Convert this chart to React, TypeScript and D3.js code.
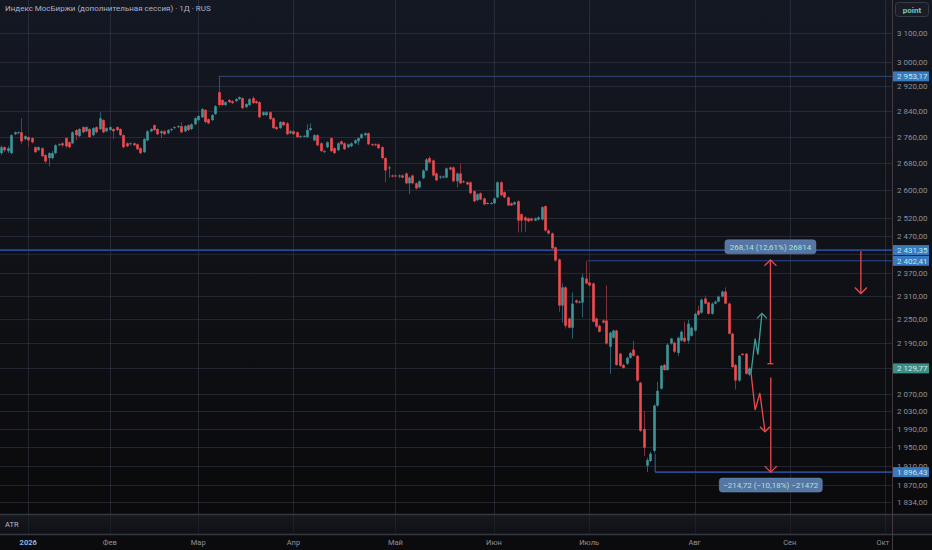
import React from "react";
import * as d3 from "d3";

// ── Data ──────────────────────────────────────────────────────────────────────

const TITLE = "Индекс МосБиржи (дополнительная сессия) · 1Д · RUS";

// daily bars: [open, high, low, close]
const candles: [number, number, number, number][] = [
  [2710, 2734, 2704, 2728], [2728, 2731, 2713, 2719], [2716, 2731, 2710, 2725], [2710, 2768, 2707, 2765],
  [2768, 2777, 2765, 2774], [2771, 2777, 2768, 2774], [2774, 2818, 2737, 2746], [2753, 2765, 2749, 2762],
  [2759, 2762, 2728, 2749], [2756, 2759, 2740, 2743], [2728, 2731, 2710, 2713], [2719, 2731, 2716, 2728],
  [2725, 2728, 2698, 2701], [2704, 2707, 2679, 2685], [2695, 2713, 2670, 2710], [2695, 2716, 2691, 2710],
  [2710, 2737, 2707, 2734], [2734, 2740, 2731, 2737], [2740, 2743, 2728, 2734], [2756, 2759, 2725, 2731],
  [2743, 2746, 2725, 2728], [2740, 2777, 2737, 2774], [2781, 2784, 2749, 2765], [2762, 2787, 2759, 2784],
  [2790, 2793, 2771, 2774], [2777, 2793, 2774, 2790], [2784, 2787, 2756, 2759], [2765, 2790, 2762, 2787],
  [2790, 2793, 2771, 2774], [2784, 2837, 2781, 2818], [2812, 2815, 2771, 2774], [2777, 2790, 2774, 2787],
  [2781, 2793, 2777, 2790], [2784, 2787, 2753, 2777], [2790, 2793, 2777, 2781], [2784, 2787, 2762, 2765],
  [2765, 2768, 2725, 2728], [2740, 2743, 2728, 2731], [2737, 2743, 2734, 2740], [2740, 2743, 2731, 2734],
  [2737, 2740, 2719, 2722], [2725, 2728, 2707, 2710], [2713, 2756, 2710, 2753], [2749, 2781, 2746, 2777],
  [2777, 2787, 2774, 2784], [2796, 2799, 2777, 2781], [2784, 2787, 2765, 2768], [2771, 2781, 2756, 2777],
  [2777, 2781, 2765, 2768], [2771, 2784, 2768, 2781], [2781, 2787, 2777, 2784], [2787, 2793, 2784, 2790],
  [2790, 2796, 2787, 2793], [2793, 2806, 2771, 2774], [2777, 2796, 2774, 2793], [2796, 2799, 2777, 2781],
  [2784, 2802, 2781, 2799], [2799, 2821, 2796, 2818], [2812, 2828, 2809, 2825], [2821, 2850, 2818, 2847],
  [2844, 2847, 2802, 2806], [2815, 2818, 2799, 2802], [2812, 2831, 2809, 2828], [2831, 2860, 2828, 2856],
  [2901, 2953.17, 2853, 2860], [2876, 2879, 2856, 2860], [2860, 2872, 2856, 2869], [2876, 2879, 2866, 2869],
  [2872, 2876, 2863, 2866], [2872, 2882, 2869, 2879], [2879, 2888, 2876, 2885], [2882, 2885, 2847, 2850],
  [2853, 2866, 2850, 2863], [2860, 2882, 2856, 2879], [2882, 2888, 2863, 2866], [2872, 2876, 2863, 2866],
  [2869, 2872, 2818, 2821], [2828, 2840, 2825, 2837], [2828, 2840, 2825, 2837], [2837, 2840, 2812, 2815],
  [2818, 2821, 2784, 2787], [2790, 2793, 2781, 2784], [2787, 2809, 2784, 2806], [2806, 2809, 2793, 2796],
  [2802, 2806, 2765, 2768], [2771, 2781, 2768, 2777], [2777, 2781, 2765, 2768], [2774, 2777, 2756, 2759],
  [2759, 2765, 2756, 2762], [2761, 2765, 2758, 2763], [2759, 2799, 2756, 2781], [2781, 2802, 2777, 2787],
  [2749, 2768, 2746, 2765], [2765, 2768, 2731, 2734], [2740, 2743, 2713, 2716], [2713, 2719, 2710, 2716],
  [2728, 2746, 2725, 2743], [2756, 2759, 2713, 2716], [2725, 2728, 2707, 2710], [2719, 2743, 2716, 2740],
  [2746, 2749, 2734, 2737], [2740, 2743, 2719, 2722], [2728, 2740, 2725, 2737], [2731, 2743, 2728, 2740],
  [2740, 2753, 2737, 2749], [2746, 2759, 2734, 2756], [2756, 2771, 2753, 2768], [2765, 2774, 2762, 2771],
  [2771, 2774, 2734, 2737], [2737, 2740, 2731, 2734], [2737, 2740, 2731, 2734], [2737, 2740, 2722, 2725],
  [2728, 2731, 2691, 2695], [2695, 2698, 2623, 2658], [2664, 2673, 2637, 2667], [2643, 2646, 2637, 2640],
  [2643, 2646, 2637, 2640], [2641, 2646, 2635, 2643], [2643, 2646, 2635, 2637], [2649, 2652, 2617, 2620],
  [2620, 2640, 2588, 2637], [2643, 2646, 2617, 2620], [2620, 2623, 2602, 2605], [2608, 2629, 2605, 2626],
  [2635, 2661, 2632, 2658], [2658, 2695, 2655, 2691], [2695, 2701, 2679, 2682], [2688, 2691, 2640, 2643],
  [2649, 2652, 2626, 2629], [2637, 2643, 2632, 2640], [2637, 2643, 2635, 2640], [2637, 2667, 2635, 2664],
  [2667, 2670, 2658, 2661], [2667, 2670, 2623, 2626], [2626, 2652, 2608, 2649], [2649, 2679, 2617, 2620],
  [2626, 2629, 2620, 2623], [2623, 2626, 2614, 2617], [2623, 2626, 2588, 2591], [2597, 2600, 2565, 2568],
  [2571, 2591, 2568, 2588], [2591, 2594, 2571, 2573], [2576, 2579, 2556, 2559], [2561, 2565, 2559, 2563],
  [2561, 2565, 2559, 2563], [2562, 2579, 2559, 2576], [2579, 2626, 2576, 2623], [2623, 2626, 2582, 2585],
  [2594, 2597, 2576, 2579], [2579, 2582, 2554, 2556], [2562, 2565, 2554, 2556], [2559, 2568, 2556, 2565],
  [2568, 2571, 2480, 2513], [2531, 2533, 2480, 2513], [2522, 2525, 2482, 2513], [2519, 2522, 2508, 2511],
  [2519, 2522, 2511, 2513], [2513, 2522, 2511, 2519], [2516, 2525, 2513, 2522], [2516, 2554, 2513, 2551],
  [2554, 2556, 2482, 2485], [2485, 2488, 2474, 2477], [2477, 2480, 2433, 2436], [2439, 2441, 2400, 2403],
  [2406, 2409, 2269, 2285], [2285, 2342, 2242, 2332], [2332, 2335, 2227, 2234], [2252, 2255, 2227, 2229],
  [2229, 2319, 2202, 2290], [2298, 2301, 2290, 2293], [2293, 2298, 2290, 2295], [2293, 2368, 2255, 2358],
  [2355, 2402.41, 2340, 2342], [2345, 2371, 2334, 2337], [2342, 2345, 2242, 2244], [2252, 2255, 2229, 2232],
  [2234, 2237, 2217, 2219], [2247, 2250, 2239, 2242], [2247, 2337, 2187, 2190], [2182, 2219, 2117, 2217],
  [2204, 2224, 2202, 2222], [2222, 2224, 2136, 2138], [2165, 2167, 2133, 2136], [2138, 2141, 2129, 2131],
  [2141, 2158, 2138, 2155], [2155, 2170, 2153, 2167], [2175, 2197, 2158, 2160], [2160, 2162, 2098, 2101],
  [2096, 2098, 1984, 1986], [1990, 2031, 1931, 1949], [1910, 1927, 1896.43, 1922], [1920, 1940, 1918, 1936],
  [1942, 2046, 1938, 2043], [2043, 2098, 2040, 2077], [2082, 2138, 2080, 2136], [2138, 2141, 2124, 2126],
  [2126, 2190, 2124, 2187], [2190, 2204, 2187, 2202], [2192, 2195, 2167, 2170], [2167, 2207, 2160, 2204],
  [2197, 2222, 2195, 2219], [2204, 2244, 2192, 2195], [2197, 2249, 2190, 2239], [2209, 2232, 2207, 2229],
  [2222, 2267, 2219, 2264], [2272, 2285, 2259, 2262], [2267, 2303, 2264, 2300], [2303, 2311, 2288, 2290],
  [2293, 2295, 2262, 2264], [2264, 2293, 2262, 2290], [2290, 2298, 2288, 2295], [2295, 2311, 2293, 2308],
  [2308, 2324, 2306, 2321], [2321, 2332, 2288, 2290], [2290, 2293, 2212, 2214], [2214, 2217, 2131, 2133],
  [2138, 2141, 2080, 2101], [2101, 2162, 2098, 2160], [2165, 2167, 2160, 2162], [2165, 2167, 2115, 2117],
  [2115, 2133, 2112, 2129.77],
];

const priceTicks = [3100, 3000, 2920, 2840, 2760, 2680, 2600, 2520, 2470, 2370, 2310, 2250, 2190, 2070, 2030, 1990, 1950, 1910, 1870, 1834];
const hiddenTicks = [2420, 2130]; // grid only, label covered by price tags

const monthLabels = ["2026", "Фев", "Мар", "Апр", "Май", "Июн", "Июль", "Авг", "Сен", "Окт"];
const monthBars = [8, 32, 58, 86, 116, 145, 173, 204, 232, 260];

// horizontal levels drawn on the chart
const levelPrices = [2953.17, 2431.35, 2402.41, 1896.43];
const levelStartBar = [64, -5, 172.6, 192.4];
const levelWidth = [1, 1.6, 1, 1.6];

const lastPrice = 2129.77;

const upForecast: [number, number][] = [[220.6, 2119], [221.8, 2202], [222.6, 2163], [223.8, 2265]];
const downForecast: [number, number][] = [[220.6, 2119], [221.8, 2033], [223.2, 2072], [224.7, 1984]];

const measureUp = { bar: 226.3, from: 2141, to: 2405, label: "268,14 (12,61%) 26814" };
const measureDown = { bar: 226.4, from: 2108, to: 1896.43, label: "−214,72 (−10,18%) −21472" };
const targetArrow = { bar: 252.9, from: 2428, to: 2316 };

// ── Layout ────────────────────────────────────────────────────────────────────

const W = 932;
const H = 550;
const PLOT_R = 892;
const PANE_B = 514;
const ATR_B = 534;

const UP = "#3d9598";
const DOWN = "#f04b50";
const UP_WICK = "#2c5d70";
const DOWN_WICK = "#80303a";
const LEVEL = "#2b4798";
const ARROW = "#e84a4f";
const FONT = "Roboto, 'DejaVu Sans', sans-serif";

const ru = d3.formatLocale({ decimal: ",", thousands: " ", grouping: [3], currency: ["", ""] });
const fmt = ru.format(",.2f");

const x = d3.scaleLinear().domain([0, 260]).range([1, 885]);
const y = d3.scaleLog().domain([1834, 3100]).range([502, 33]);

function arrowHead(px: number, py: number, dir: 1 | -1, s = 6) {
  // dir = -1 pointing up, 1 pointing down
  return `M${px - s},${py - dir * s}L${px},${py}L${px + s},${py - dir * s}`;
}

export default function App() {
  const line = d3
    .line<[number, number]>()
    .x((d) => x(d[0]))
    .y((d) => y(d[1]));

  const bodyW = 2.6;

  return (
    <svg width={W} height={H} style={{ display: "block", background: "#0b0c0f" }}>
      <style>{"body{margin:0}"}</style>
      <defs>
        <linearGradient id="bg" x1="0" y1="0" x2="0" y2="1">
          <stop offset="0" stopColor="#141823" />
          <stop offset="0.55" stopColor="#0f1116" />
          <stop offset="1" stopColor="#0a0a0c" />
        </linearGradient>
        <linearGradient id="atr" x1="0" y1="0" x2="0" y2="1">
          <stop offset="0" stopColor="#171920" />
          <stop offset="1" stopColor="#0f1014" />
        </linearGradient>
        <clipPath id="plot">
          <rect x={0} y={0} width={PLOT_R} height={PANE_B} />
        </clipPath>
      </defs>

      <rect x={0} y={0} width={W} height={PANE_B} fill="url(#bg)" />
      <rect x={0} y={PANE_B} width={W} height={ATR_B - PANE_B} fill="url(#atr)" />
      <rect x={0} y={ATR_B} width={W} height={H - ATR_B} fill="#0b0b0d" />

      {/* grid */}
      <g stroke="rgba(70,78,98,0.38)" strokeWidth={1}>
        {[...priceTicks, ...hiddenTicks].map((p) => (
          <line key={"h" + p} x1={0} x2={PLOT_R} y1={Math.round(y(p)) + 0.5} y2={Math.round(y(p)) + 0.5} />
        ))}
        {monthBars.map((b) => (
          <line key={"v" + b} x1={Math.round(x(b)) + 0.5} x2={Math.round(x(b)) + 0.5} y1={0} y2={PANE_B} />
        ))}
        {monthBars.map((b) => (
          <line key={"va" + b} x1={Math.round(x(b)) + 0.5} x2={Math.round(x(b)) + 0.5} y1={PANE_B} y2={ATR_B} stroke="rgba(70,78,98,0.2)" />
        ))}
      </g>

      <g clipPath="url(#plot)">
        {/* levels */}
        {levelPrices.map((p, i) => (
          <line
            key={"lv" + i}
            x1={x(levelStartBar[i])}
            x2={PLOT_R}
            y1={y(p)}
            y2={y(p)}
            stroke={i === 0 ? "#34467a" : LEVEL}
            strokeWidth={levelWidth[i]}
          />
        ))}
        <line x1={x(levelStartBar[3])} x2={x(levelStartBar[3])} y1={y(1936)} y2={y(levelPrices[3])} stroke="#3b5fa8" strokeWidth={1} />

        {/* candles */}
        {candles.map(([o, h, l, c], i) => {
          const cx = Math.round(x(i)) + 0.5;
          const up = c >= o;
          const top = y(Math.max(o, c));
          const bot = y(Math.min(o, c));
          return (
            <g key={i}>
              <line x1={cx} x2={cx} y1={y(h)} y2={y(l)} stroke={up ? UP_WICK : DOWN_WICK} strokeWidth={1} />
              <rect x={cx - bodyW / 2} y={top} width={bodyW} height={Math.max(1, bot - top)} fill={up ? UP : DOWN} />
            </g>
          );
        })}

        {/* forecasts */}
        <path d={line(upForecast) ?? ""} fill="none" stroke="#3f9c98" strokeWidth={1.3} />
        <path
          d={arrowHead(x(upForecast[3][0]), y(upForecast[3][1]), -1, 5)}
          fill="none"
          stroke="#3f9c98"
          strokeWidth={1.3}
        />
        <path d={line(downForecast) ?? ""} fill="none" stroke={ARROW} strokeWidth={1.3} />
        <path
          d={arrowHead(x(downForecast[3][0]), y(downForecast[3][1]), 1, 5)}
          fill="none"
          stroke={ARROW}
          strokeWidth={1.3}
        />

        {/* measure arrows */}
        {[measureUp, measureDown, targetArrow].map((m, i) => {
          const ax = x(m.bar);
          const dir = m.to > m.from ? -1 : 1;
          return (
            <g key={"ar" + i} stroke={ARROW} strokeWidth={1.3} fill="none">
              <line x1={ax} x2={ax} y1={y(m.from)} y2={y(m.to)} />
              <path d={arrowHead(ax, y(m.to), dir as 1 | -1, 6)} />
              {i === 0 && <line x1={ax - 3} x2={ax + 3} y1={y(m.from)} y2={y(m.from)} />}
            </g>
          );
        })}
      </g>

      {/* measure labels */}
      <g fontFamily={FONT} fontSize={8}>
        <rect x={x(measureUp.bar) - 45.5} y={y(measureUp.to) - 20} width={91} height={14} rx={3} fill="#5676a3" stroke="#6d8cb8" strokeWidth={0.5} />
        <text x={x(measureUp.bar)} y={y(measureUp.to) - 10} textAnchor="middle" fill="#a9e4de">
          {measureUp.label}
        </text>
        <rect x={x(measureDown.bar) - 51.5} y={y(measureDown.to) + 6} width={103} height={14} rx={3} fill="#5676a3" stroke="#6d8cb8" strokeWidth={0.5} />
        <text x={x(measureDown.bar)} y={y(measureDown.to) + 16} textAnchor="middle" fill="#a9e4de">
          {measureDown.label}
        </text>
      </g>

      {/* title */}
      <text x={5} y={11} fontFamily={FONT} fontSize={8} fill="#a9b3c6">
        {TITLE}
      </text>

      {/* pane separators */}
      <line x1={0} x2={W} y1={PANE_B + 0.5} y2={PANE_B + 0.5} stroke="#343842" strokeWidth={1.5} />
      <line x1={0} x2={W} y1={ATR_B + 0.5} y2={ATR_B + 0.5} stroke="#343842" strokeWidth={1.5} />
      <text x={5} y={527} fontFamily={FONT} fontSize={7.5} fill="#b8bcc6">
        ATR
      </text>

      {/* price axis */}
      <line x1={PLOT_R + 0.5} x2={PLOT_R + 0.5} y1={0} y2={H} stroke="#443a42" strokeWidth={1} />
      <g fontFamily={FONT} fontSize={8} fill="#8d919c">
        {priceTicks.map((p) => (
          <text key={"t" + p} x={897} y={y(p) + 3}>
            {fmt(p)}
          </text>
        ))}
      </g>
      {levelPrices.map((p, i) => (
        <g key={"pl" + i}>
          <rect x={PLOT_R + 1} y={y(p) - 5} width={36} height={10} fill="#3a78c0" />
          <text x={897} y={y(p) + 3} fontFamily={FONT} fontSize={8} fill="#b8ecea">
            {fmt(p)}
          </text>
        </g>
      ))}
      <rect x={PLOT_R + 1} y={y(lastPrice) - 5} width={36} height={10} fill="#3d8d88" />
      <text x={897} y={y(lastPrice) + 3} fontFamily={FONT} fontSize={8} fill="#c6efe9">
        {fmt(lastPrice)}
      </text>

      {/* point button */}
      <rect x={895.5} y={2.5} width={33} height={14} rx={3} fill="#1a1d25" stroke="#373b46" />
      <text x={912} y={12.5} textAnchor="middle" fontFamily={FONT} fontSize={8} fontWeight="bold" fill="#7cc6bd">
        point
      </text>

      {/* time axis */}
      <g fontFamily={FONT} fontSize={7.5} textAnchor="middle">
        {monthLabels.map((m, i) => (
          <text
            key={m}
            x={i === monthLabels.length - 1 ? x(monthBars[i]) - 2 : x(monthBars[i])}
            y={545}
            fill={i === 0 ? "#8fb3e0" : "#8d919c"}
            fontWeight={i === 0 ? "bold" : "normal"}
          >
            {m}
          </text>
        ))}
      </g>
    </svg>
  );
}
